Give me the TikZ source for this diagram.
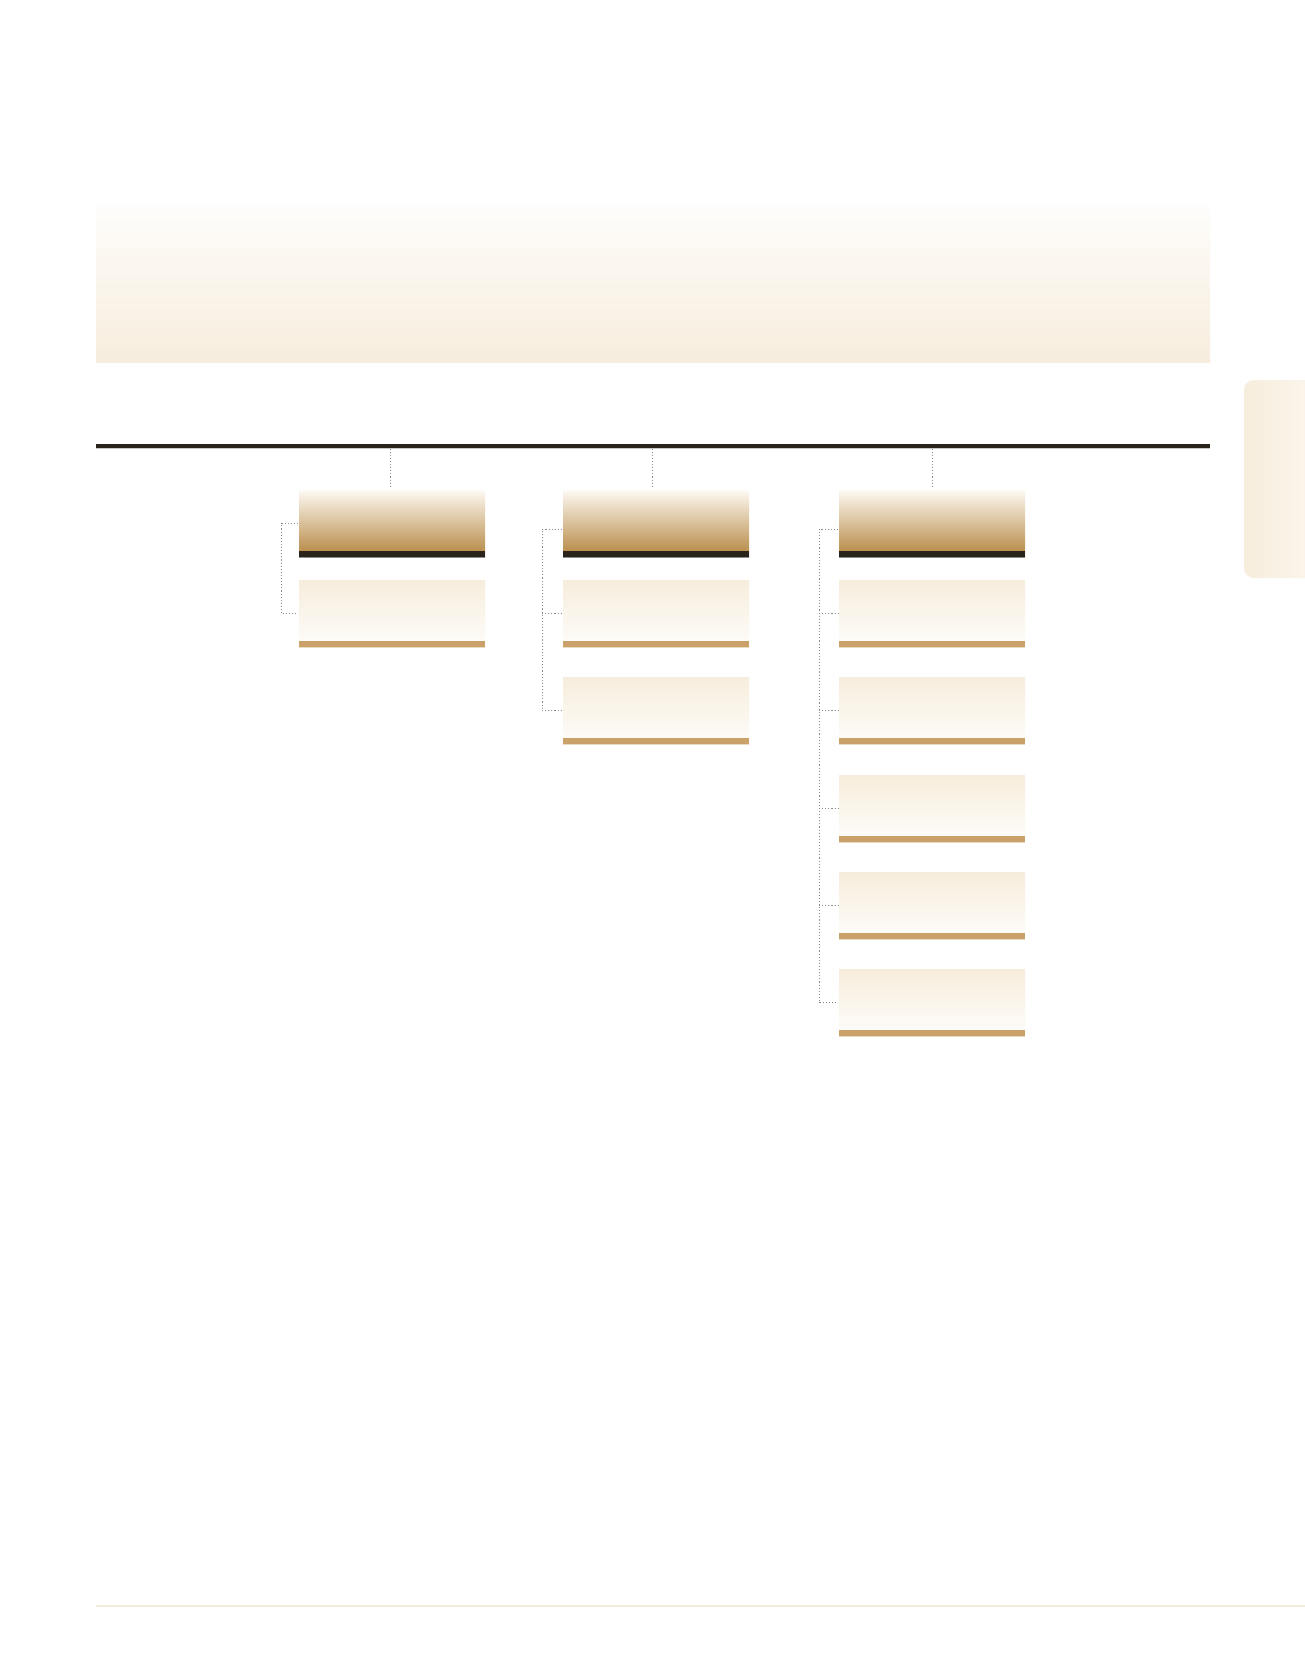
\documentclass[tikz,border=0pt]{standalone}
\usetikzlibrary{calc}
\definecolor{darkbar}{HTML}{2A231B}
\definecolor{tanbar}{HTML}{C9A169}
\definecolor{hdrtop}{HTML}{FDF9F2}
\definecolor{hdrmid}{HTML}{DDBF98}
\definecolor{hdrbot}{HTML}{B4843D}
\definecolor{itmtop}{HTML}{F7EDDC}
\definecolor{itmmid}{HTML}{FCF8F0}
\definecolor{itmbot}{HTML}{FEFDFB}
\definecolor{bantop}{HTML}{FEFDFB}
\definecolor{banbot}{HTML}{F7EDDD}
\definecolor{tableft}{HTML}{F7EDDC}
\definecolor{tabright}{HTML}{FCF9F2}
\definecolor{dotgray}{HTML}{8A8A8A}
\definecolor{footline}{HTML}{F6ECDC}
\begin{document}
\begin{tikzpicture}[x=1pt,y=-1pt,
  hdr/.style={rectangle, inner sep=0pt, minimum width=186pt, minimum height=67pt,
    anchor=north west, top color=hdrtop, middle color=hdrmid, bottom color=hdrbot, draw=none},
  itm/.style={rectangle, inner sep=0pt, minimum width=186pt, minimum height=67pt,
    anchor=north west, top color=itmtop, middle color=itmmid, bottom color=itmbot, draw=none},
  dotline/.style={draw=dotgray, line width=0.9pt, dash pattern=on 1.1pt off 2pt},
  darkfill/.style={fill=darkbar},
  tanfill/.style={fill=tanbar}]
\path[use as bounding box, fill=white] (0,0) rectangle (1305,1676);
\clip (0,0) rectangle (1305,1676);

% banner
\path[top color=bantop, bottom color=banbot] (96,205) rectangle (1210,362);
% side tab
\path[left color=tableft, right color=tabright, rounded corners=10pt] (1244,380) rectangle (1340,578);
% top rule
\coordinate (L) at (96,446);
\coordinate (R) at (1210,446);
\draw[darkbar, line width=4.3pt] (L) -- (R);
\draw[black!22, line width=0.8pt] ([yshift=-2.6pt]L) -- ([yshift=-2.6pt]R);
% footer line
\coordinate (FL) at (96,1606);
\coordinate (FR) at (1305,1606);
\draw[footline, line width=2pt] (FL) -- (FR);

% column 1
\node[hdr] (h1) at (299,490) {};
\node[itm] (b11) at (299,580) {};
% column 2
\node[hdr] (h2) at (563,490) {};
\node[itm] (b21) at (563,580) {};
\node[itm] (b22) at (563,677) {};
% column 3
\node[hdr] (h3) at (839,490) {};
\node[itm] (b31) at (839,580) {};
\node[itm] (b32) at (839,677) {};
\node[itm] (b33) at (839,775) {};
\node[itm] (b34) at (839,872) {};
\node[itm] (b35) at (839,969) {};

% bars
\foreach \h in {h1,h2,h3}{
  \path[darkfill] ([yshift=6pt]\h.south west) rectangle (\h.south east);
  \draw[black!45, line width=0.7pt] ([yshift=-0.4pt]\h.south west) -- ([yshift=-0.4pt]\h.south east);
}
\foreach \b in {b11,b21,b22,b31,b32,b33,b34,b35}{
  \path[tanfill] ([yshift=6pt]\b.south west) rectangle (\b.south east);
  \draw[tanbar!40, line width=0.7pt] ([yshift=-0.4pt]\b.south west) -- ([yshift=-0.4pt]\b.south east);
}

% connectors from top rule
\coordinate (t1) at (390.5,448.5);
\coordinate (t2) at (652.5,448.5);
\coordinate (t3) at (932,448.5);
\draw[dotline, shorten >=2pt] (t1) -- (t1 |- h1.north);
\draw[dotline, shorten >=2pt] (t2) -- (t2 |- h2.north);
\draw[dotline, shorten >=2pt] (t3) -- (t3 |- h3.north);

% brackets
\draw[dotline] ([xshift=-1pt]h1.west) -| ([xshift=-18pt]b11.west) -- ([xshift=-1pt]b11.west);
\draw[dotline] ([xshift=-1pt,yshift=-5.5pt]h2.west) -| ([xshift=-21pt]b22.west) -- ([xshift=-1pt]b22.west);
\draw[dotline] ([xshift=-21pt]b21.west) -- ([xshift=-1pt]b21.west);
\draw[dotline] ([xshift=-1pt,yshift=-5.5pt]h3.west) -| ([xshift=-20pt]b35.west) -- ([xshift=-1pt]b35.west);
\foreach \b in {b31,b32,b33,b34}{
  \draw[dotline] ([xshift=-20pt]\b.west) -- ([xshift=-1pt]\b.west);
}
\end{tikzpicture}
\end{document}
